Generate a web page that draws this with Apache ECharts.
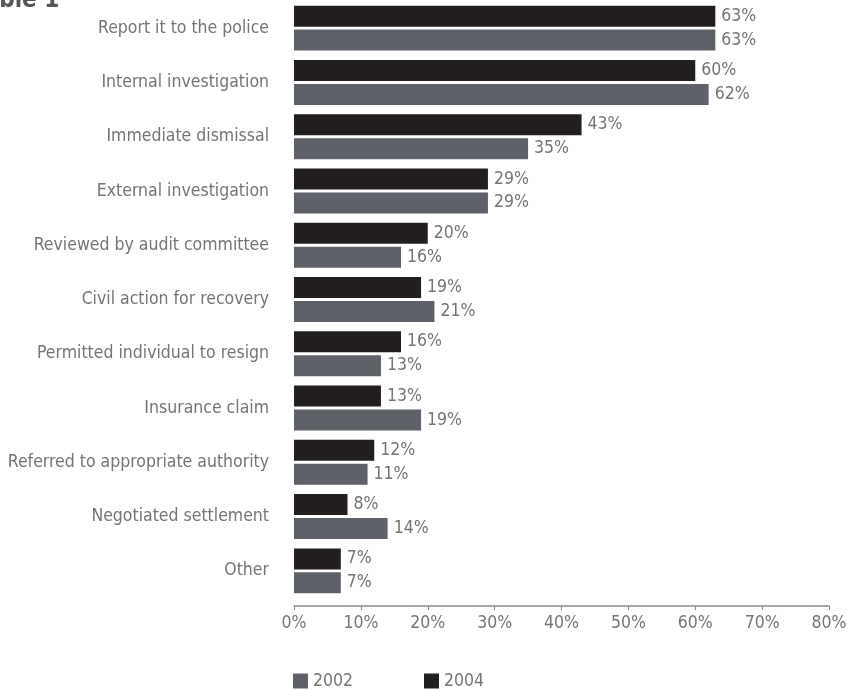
<!DOCTYPE html>
<html>
<head>
<meta charset="utf-8">
<script src="https://cdn.jsdelivr.net/npm/echarts@6/dist/echarts.min.js"></script>
<style>
html,body{margin:0;padding:0;background:#fff;}
#chart{width:859px;height:691px;}
</style>
</head>
<body>
<div id="chart"></div>
<script>
var categories = [
  "Report it to the police",
  "Internal investigation",
  "Immediate dismissal",
  "External investigation",
  "Reviewed by audit committee",
  "Civil action for recovery",
  "Permitted individual to resign",
  "Insurance claim",
  "Referred to appropriate authority",
  "Negotiated settlement",
  "Other"
];
var values2004 = [63, 60, 43, 29, 20, 19, 16, 13, 12, 8, 7];
var values2002 = [63, 62, 35, 29, 16, 21, 13, 19, 11, 14, 7];
var tickValues = [0, 10, 20, 30, 40, 50, 60, 70, 80];

var FONT = "'Liberation Sans Narrow', 'DejaVu Sans Condensed', 'Roboto', sans-serif";
var TXT = '#747474';
var C2004 = '#231f20';
var C2002 = '#5f6169';
var FS = 17.5;

var chart = echarts.init(document.getElementById('chart'));
chart.setOption({
  animation: false,
  graphic: [
    {
      type: 'text',
      x: -27,
      y: -11,
      silent: true,
      style: {
        text: 'Table 1',
        fontFamily: FONT,
        fontWeight: 'bold',
        fontSize: 24,
        fill: '#555'
      }
    }
  ],
  legend: [
    {
      data: ['2002'], left: 293, top: 672, padding: 0, itemWidth: 15, itemHeight: 15, itemGap: 0,
      icon: 'rect', textStyle: { fontFamily: FONT, fontSize: FS, color: TXT }
    },
    {
      data: ['2004'], left: 424, top: 672, padding: 0, itemWidth: 15, itemHeight: 15, itemGap: 0,
      icon: 'rect', textStyle: { fontFamily: FONT, fontSize: FS, color: TXT }
    }
  ],
  grid: { left: 294, right: 30, top: 1, height: 597, containLabel: false },
  xAxis: {
    type: 'value',
    min: tickValues[0],
    max: tickValues[tickValues.length - 1],
    interval: 10,
    offset: 8,
    splitLine: { show: false },
    axisLine: { show: true, lineStyle: { color: '#888', width: 1.5 } },
    axisTick: { show: true, length: 4, lineStyle: { color: '#888' } },
    axisLabel: { formatter: '{value}%', fontFamily: FONT, fontSize: FS, color: TXT, margin: 8 }
  },
  yAxis: {
    type: 'category',
    data: categories,
    inverse: true,
    axisLine: { show: false },
    axisTick: { show: false },
    axisLabel: { fontFamily: FONT, fontSize: FS, color: TXT, margin: 25 }
  },
  series: [
    {
      name: '2004', type: 'bar', data: values2004, barWidth: 21, barGap: '14%',
      itemStyle: { color: C2004 },
      label: { show: true, position: 'right', distance: 6, formatter: '{c}%', fontFamily: FONT, fontSize: FS, color: TXT }
    },
    {
      name: '2002', type: 'bar', data: values2002, barWidth: 21, barGap: '14%',
      itemStyle: { color: C2002 },
      label: { show: true, position: 'right', distance: 6, formatter: '{c}%', fontFamily: FONT, fontSize: FS, color: TXT }
    }
  ]
});
</script>
</body>
</html>
